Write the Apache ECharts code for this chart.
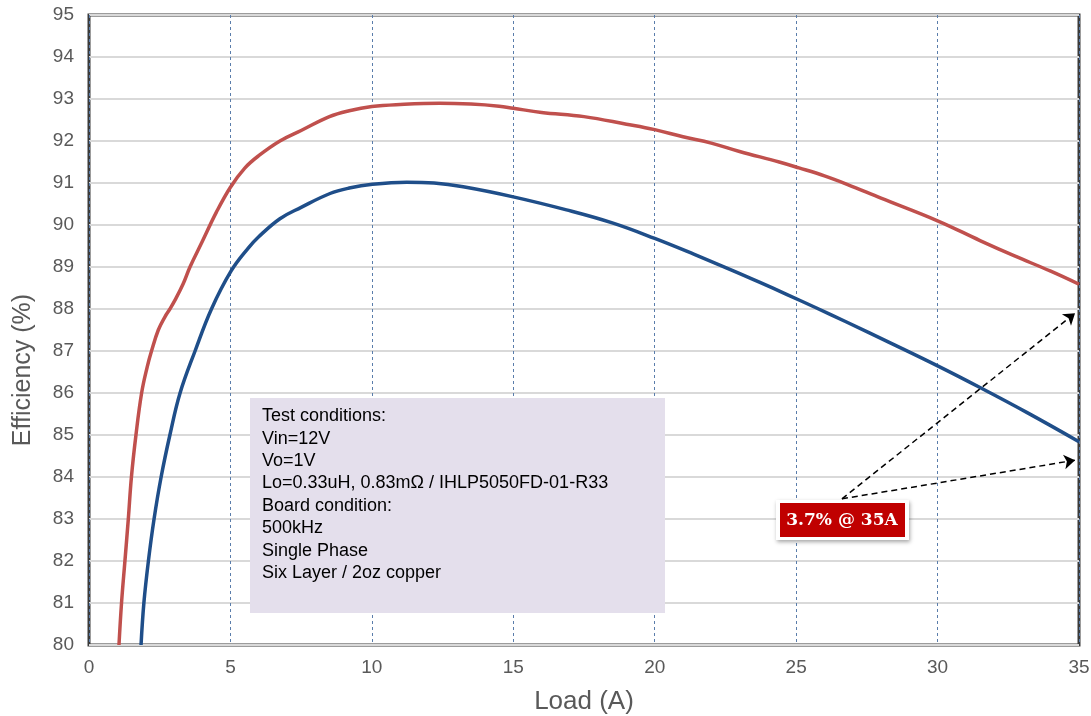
<!DOCTYPE html>
<html>
<head>
<meta charset="utf-8">
<script src="https://cdn.jsdelivr.net/npm/echarts@6/dist/echarts.min.js"></script>
<style>
html, body { margin: 0; padding: 0; background: #fff; }
#chart { width: 1091px; height: 716px; }
</style>
</head>
<body>
<div id="chart"></div>
<script>
// load (A) / efficiency (%)
var red_x = [1.06, 1.15, 1.27, 1.39, 1.5, 1.66, 1.86, 2.05, 2.21, 2.45, 2.69, 2.86, 3.04, 3.33, 3.57, 4.0, 4.5, 5.0, 5.5, 6.0, 6.75, 7.5, 8.5, 9.2, 10, 11, 12.4, 13.5, 14.5, 15, 16, 17.5, 19, 20, 21, 22, 23, 24.4, 25.1, 26, 26.8, 28, 30, 31.5, 32.7, 34, 35];
var red_y = [80, 81, 82, 83, 84, 85, 86, 86.6, 87, 87.5, 87.82, 88.0, 88.21, 88.6, 89.0, 89.6, 90.3, 90.9, 91.35, 91.65, 92.0, 92.25, 92.58, 92.72, 92.82, 92.87, 92.9, 92.88, 92.83, 92.78, 92.68, 92.58, 92.4, 92.27, 92.1, 91.95, 91.75, 91.5, 91.36, 91.17, 90.97, 90.64, 90.1, 89.63, 89.27, 88.9, 88.59];
var blue_x = [1.84, 1.94, 2.1, 2.3, 2.55, 2.86, 3.22, 3.75, 4.33, 5.02, 5.63, 6.0, 6.75, 7.5, 8.52, 9.2, 10.02, 11.23, 12.2, 13.23, 15, 16.88, 18.5, 20, 21.4, 22.78, 23.7, 24.66, 25.7, 26.78, 28.4, 30.02, 31.5, 33.2, 35];
var blue_y = [80, 81, 82, 83, 84, 85, 86, 87, 88, 88.9, 89.45, 89.72, 90.15, 90.42, 90.75, 90.88, 90.97, 91.02, 91.0, 90.91, 90.67, 90.36, 90.05, 89.68, 89.3, 88.91, 88.64, 88.35, 88.03, 87.69, 87.17, 86.64, 86.13, 85.52, 84.84];

var arrow_from = [26.62, 83.48];
var arrow_to = [[34.86, 87.9], [34.86, 84.4]];
var note_label = '3.7% @ 35A';

var cond_lines = [
    'Test conditions:',
    'Vin=12V',
    'Vo=1V',
    'Lo=0.33uH, 0.83mΩ / IHLP5050FD-01-R33',
    'Board condition:',
    '500kHz',
    'Single Phase',
    'Six Layer / 2oz copper'
];

function pairs(xs, ys) {
    var out = [];
    xs.forEach(function (x, i) { out.push([x, ys[i]]); });
    return out;
}

var arrow_data = arrow_to.map(function (p) {
    return [{ coord: arrow_from }, { coord: p }];
});

var myChart = echarts.init(document.getElementById('chart'));
var option = {
    animation: false,
    grid: {
        left: 89, right: 12, top: 15, bottom: 71,
        outerBoundsMode: 'none',
        containLabel: false,
        show: true,
        borderColor: '#3a3a3a',
        borderWidth: 3
    },
    xAxis: {
        type: 'value',
        min: 0, max: 35, interval: 5,
        name: 'Load (A)',
        nameLocation: 'middle',
        nameGap: 44,
        nameTextStyle: { fontSize: 26, color: '#595959', fontFamily: 'Liberation Sans' },
        axisLine: { show: false },
        axisTick: { show: false },
        axisLabel: { fontSize: 19, color: '#595959', margin: 13, fontFamily: 'Liberation Sans' },
        splitLine: { show: true, lineStyle: { color: '#5a7dab', type: [3, 3], width: 1 } }
    },
    yAxis: {
        type: 'value',
        min: 80, max: 95, interval: 1,
        axisLine: { show: false },
        axisTick: { show: false },
        axisLabel: { fontSize: 19, color: '#595959', margin: 15, fontFamily: 'Liberation Sans' },
        splitLine: { show: true, lineStyle: { color: '#d9d9d9', width: 2 } }
    },
    graphic: [
        {
            type: 'text',
            x: 23, y: 370,
            rotation: Math.PI / 2,
            style: {
                text: 'Efficiency (%)',
                font: '25px "Liberation Sans", Arial, sans-serif',
                fill: '#595959',
                align: 'center',
                verticalAlign: 'middle'
            }
        },
        {
            type: 'rect',
            left: 250, top: 398,
            shape: { width: 415, height: 215 },
            style: { fill: '#e4dfec' },
            z: 5
        },
        {
            type: 'text',
            left: 262, top: 405,
            style: {
                text: cond_lines.join('\n'),
                font: '18px "Liberation Sans", Arial, sans-serif',
                fill: '#000',
                lineHeight: 22.4
            },
            z: 6
        },
        {
            type: 'rect',
            left: 776, top: 500,
            shape: { width: 133, height: 40 },
            style: {
                fill: '#fff',
                shadowBlur: 4, shadowOffsetX: 1, shadowOffsetY: 2,
                shadowColor: 'rgba(0,0,0,0.35)'
            },
            z: 20
        },
        {
            type: 'rect',
            left: 780, top: 503,
            shape: { width: 125, height: 34 },
            style: { fill: '#c00000' },
            z: 21
        },
        {
            type: 'text',
            x: 842, y: 521,
            style: {
                text: note_label,
                font: 'bold 17px "DejaVu Serif", "Liberation Serif", serif',
                fill: '#fff',
                align: 'center',
                verticalAlign: 'middle'
            },
            z: 22
        }
    ],
    series: [
        {
            name: 'red',
            type: 'line',
            data: pairs(red_x, red_y),
            smooth: 0.4,
            showSymbol: false,
            lineStyle: { color: '#c0504d', width: 3.5 },
            z: 3
        },
        {
            name: 'blue',
            type: 'line',
            data: pairs(blue_x, blue_y),
            smooth: 0.4,
            showSymbol: false,
            lineStyle: { color: '#1f4e89', width: 3.5 },
            z: 3,
            markLine: {
                silent: true,
                symbol: ['none', 'arrow'],
                symbolSize: 11,
                label: { show: false },
                lineStyle: { color: '#000', type: [6, 4], width: 1.5 },
                data: arrow_data
            }
        }
    ]
};
myChart.setOption(option);
</script>
</body>
</html>
